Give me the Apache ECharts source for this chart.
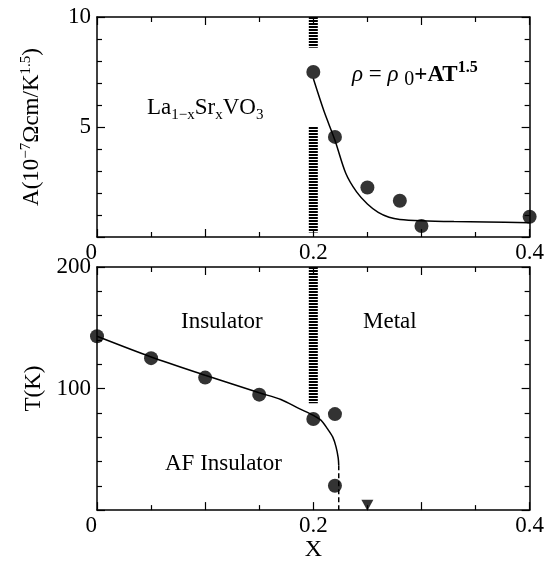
<!DOCTYPE html>
<html>
<head>
<meta charset="utf-8">
<script src="https://cdn.jsdelivr.net/npm/echarts@6/dist/echarts.min.js"></script>
<style>
  html, body { margin: 0; padding: 0; background: #fff; }
  #chart { width: 547px; height: 563px; }
</style>
</head>
<body>
<div id="chart"></div>
<script>
// 上图：A 系数
const topX = [0.2, 0.22, 0.25, 0.28, 0.3, 0.4]
const topA = [7.5, 4.55, 2.25, 1.65, 0.5, 0.92]
const topFitX = [0.2, 0.21, 0.22, 0.23, 0.24, 0.25, 0.26, 0.27, 0.28, 0.3, 0.33, 0.36, 0.4]
const topFitA = [7.2, 5.7, 4.4, 2.9, 2.05, 1.5, 1.12, 0.9, 0.8, 0.74, 0.7, 0.68, 0.65]
const topHatchUp = [10, 8.6]
const topHatchLow = [5.0, 0.2]

// 下图：相图
const botX = [0, 0.05, 0.1, 0.15, 0.2, 0.22, 0.22]
const botT = [143, 125, 109, 95, 75, 79, 20]
const triX = [0.25]
const triT = [4]
const botFitX = [0, 0.05, 0.1, 0.15, 0.17, 0.187, 0.2, 0.207, 0.213, 0.218, 0.221, 0.223, 0.2235]
const botFitT = [143, 126, 111, 96.5, 91, 83.5, 78, 74, 67, 60, 52, 43, 37]
const botDashX = [0.2235, 0.2235]
const botDashT = [37, 0]
const botHatch = [200, 88]
const hatchX = 0.2

const font = 'Liberation Serif'
const zip = (xs, ys) => xs.map((x, i) => [x, ys[i]])

var myChart = echarts.init(document.getElementById('chart'))

const xBase = {
	type: 'value', min: 0, max: 0.4, interval: 0.1,
	axisLine: { onZero: false, lineStyle: { color: '#000', width: 1.5 } },
	axisTick: { inside: true, length: 8, lineStyle: { color: '#000', width: 1.2 } },
	minorTick: { show: true, splitNumber: 2, length: 5, lineStyle: { color: '#000', width: 1.2 } },
	splitLine: { show: false },
	axisLabel: {
		color: '#000', fontFamily: font, fontSize: 23, margin: 4,
		alignMinLabel: 'right',
		formatter: v => (Math.abs(v) < 1e-9 ? '0' : (Math.abs(v - 0.2) < 1e-9 ? '0.2' : (Math.abs(v - 0.4) < 1e-9 ? '0.4' : '')))
	}
}
const yBase = (max, interval, split) => ({
	type: 'value', min: 0, max: max, interval: interval,
	axisLine: { show: true, onZero: false, lineStyle: { color: '#000', width: 1.5 } },
	axisTick: { show: true, inside: true, length: 8, lineStyle: { color: '#000', width: 1.2 } },
	minorTick: { show: true, splitNumber: split, length: 5, lineStyle: { color: '#000', width: 1.2 } },
	splitLine: { show: false },
	axisLabel: { color: '#000', fontFamily: font, fontSize: 23, margin: 6, showMinLabel: false }
})
const mirror = (axis, extra) => Object.assign({}, axis, { axisLabel: { show: false }, name: '' }, extra)

const xTop = Object.assign({}, xBase, { gridIndex: 0 })
const xBot = Object.assign({}, xBase, {
	gridIndex: 1, name: 'X', nameLocation: 'middle', nameGap: 24,
	nameTextStyle: { color: '#000', fontFamily: font, fontSize: 24 }
})
const yTop = Object.assign(yBase(10, 5, 5), {
	gridIndex: 0,
	name: 'A(10{sup|−7}Ωcm/K{sup|1.5})', nameLocation: 'middle', nameGap: 52,
	nameTextStyle: {
		color: '#000', fontFamily: font, fontSize: 23, lineHeight: 26,
		rich: { sup: { fontFamily: font, fontSize: 15, verticalAlign: 'top', lineHeight: 26, color: '#000' } }
	}
})
const yBot = Object.assign(yBase(200, 100, 5), {
	gridIndex: 1,
	name: 'T(K)', nameLocation: 'middle', nameGap: 52,
	nameTextStyle: { color: '#000', fontFamily: font, fontSize: 23 }
})

const hatchStyle = { color: '#000', width: 9, type: [2, 1] }
const dot = { type: 'scatter', symbol: 'circle', symbolSize: 14, itemStyle: { color: '#000' }, z: 5 }

var option = {
	animation: false,
	backgroundColor: '#fff',
	grid: [
		{ left: 97, top: 17, width: 435, height: 220 },
		{ left: 97, top: 267, width: 435, height: 251 }
	],
	xAxis: [
		xTop, xBot,
		mirror(xTop, { position: 'top' }),
		mirror(xBase, { gridIndex: 1, position: 'top' })
	],
	yAxis: [
		yTop, yBot,
		mirror(yTop, { position: 'right' }),
		mirror(yBot, { position: 'right' })
	],
	series: [
		// 上图
		{ type: 'line', xAxisIndex: 0, yAxisIndex: 0, data: zip([hatchX, hatchX], topHatchUp), symbol: 'none', lineStyle: hatchStyle },
		{ type: 'line', xAxisIndex: 0, yAxisIndex: 0, data: zip([hatchX, hatchX], topHatchLow), symbol: 'none', lineStyle: hatchStyle },
		{ type: 'line', xAxisIndex: 0, yAxisIndex: 0, data: zip(topFitX, topFitA), symbol: 'none', smooth: 0.3,
			lineStyle: { color: '#000', width: 1.5 } },
		Object.assign({}, dot, { xAxisIndex: 0, yAxisIndex: 0, data: zip(topX, topA) }),
		// 下图
		{ type: 'line', xAxisIndex: 1, yAxisIndex: 1, data: zip([hatchX, hatchX], botHatch), symbol: 'none', lineStyle: hatchStyle },
		{ type: 'line', xAxisIndex: 1, yAxisIndex: 1, data: zip(botFitX, botFitT), symbol: 'none', smooth: 0.3,
			lineStyle: { color: '#000', width: 1.5 } },
		{ type: 'line', xAxisIndex: 1, yAxisIndex: 1, data: zip(botDashX, botDashT), symbol: 'none',
			lineStyle: { color: '#000', width: 1.5, type: [5, 3] } },
		Object.assign({}, dot, { xAxisIndex: 1, yAxisIndex: 1, data: zip(botX, botT) }),
		{ type: 'scatter', xAxisIndex: 1, yAxisIndex: 1, data: zip(triX, triT), symbol: 'triangle', symbolRotate: 180,
			symbolSize: [12, 11], itemStyle: { color: '#000' } }
	],
	graphic: [
		{ type: 'text', left: 147, top: 96, style: {
			text: 'La{sub|1−x}Sr{sub|x}VO{sub|3}', fill: '#000', font: '23px "' + font + '"',
			rich: { sub: { fontFamily: font, fontSize: 15, verticalAlign: 'bottom', lineHeight: 30, fill: '#000' } }
		} },
		{ type: 'text', left: 352, top: 60, style: {
			text: '{it|ρ} = {it|ρ} {sub|0}{b|+AT}{sup|1.5}', fill: '#000', font: '23px "' + font + '"',
			rich: {
				it: { fontFamily: font, fontStyle: 'italic', fontSize: 23, lineHeight: 30, fill: '#000' },
				sub: { fontFamily: font, fontSize: 20, verticalAlign: 'bottom', lineHeight: 30, fill: '#000' },
				b: { fontFamily: font, fontWeight: 'bold', fontSize: 23, lineHeight: 30, fill: '#000' },
				sup: { fontFamily: font, fontWeight: 'bold', fontSize: 16, verticalAlign: 'top', lineHeight: 30, fill: '#000' }
			}
		} },
		{ type: 'text', left: 181, top: 310, style: { text: 'Insulator', fill: '#000', font: '23px "' + font + '"' } },
		{ type: 'text', left: 363, top: 310, style: { text: 'Metal', fill: '#000', font: '23px "' + font + '"' } },
		{ type: 'text', left: 165, top: 452, style: { text: 'AF Insulator', fill: '#000', font: '23px "' + font + '"' } }
	]
}
myChart.setOption(option)
</script>
</body>
</html>
